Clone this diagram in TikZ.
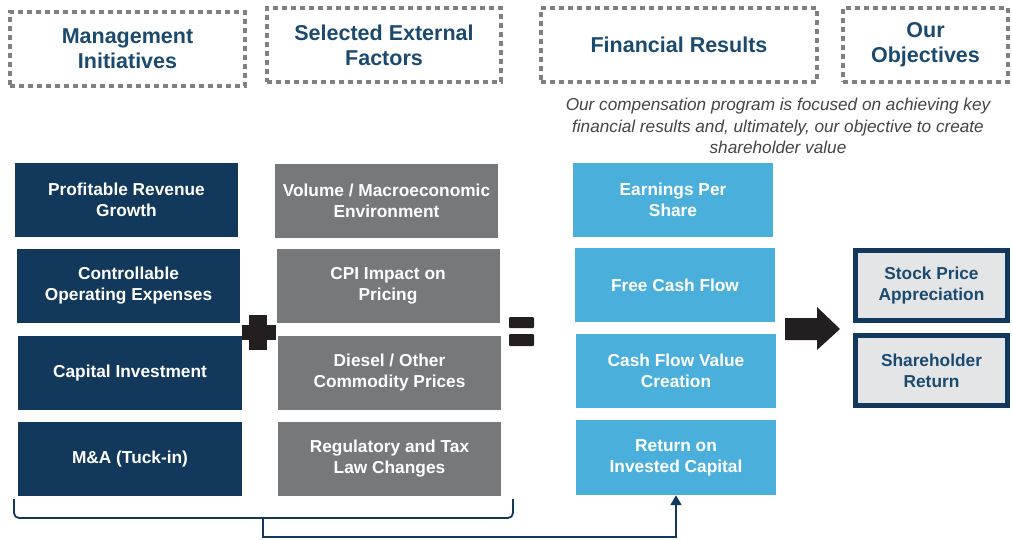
\documentclass[tikz,border=0pt]{standalone}
\usepackage{fontspec}
\setmainfont{Liberation Sans}
\usetikzlibrary{arrows.meta}
\definecolor{navy}{HTML}{12395B}
\definecolor{hdtext}{HTML}{1C4A6E}
\definecolor{gbox}{HTML}{77787A}
\definecolor{lblue}{HTML}{4BAFDC}
\definecolor{objfill}{HTML}{E4E5E7}
\definecolor{dotgray}{HTML}{808080}
\definecolor{ittext}{HTML}{444444}
\definecolor{symb}{HTML}{231F20}
\tikzset{
  hdr/.style={draw=dotgray, line width=4.5pt, dash pattern=on 5pt off 4pt, minimum height=74pt,
    font=\fontsize{21.5}{25}\selectfont\bfseries, text=hdtext, align=center, inner sep=0pt},
  boxbase/.style={minimum height=74pt, inner sep=0pt, align=center,
    font=\fontsize{17.3}{21}\selectfont\bfseries, text=white},
  navybox/.style={boxbase, fill=navy, minimum width=224pt},
  graybox/.style={boxbase, fill=gbox, minimum width=223pt},
  bluebox/.style={boxbase, fill=lblue, minimum width=200pt},
  objbox/.style={boxbase, draw=navy, line width=5pt, fill=objfill, text=hdtext,
    minimum width=152pt, minimum height=70pt},
  brace/.style={draw=navy, line width=1.8pt, rounded corners=5pt},
}
\begin{document}
\begin{tikzpicture}[x=1pt,y=-1pt]
\useasboundingbox (0,0) rectangle (1012,539);
% headers
\node[hdr, minimum width=235pt] (h1) at (127.5,49) {Management\\Initiatives};
\node[hdr, minimum width=234pt] (h2) at (384,45) {Selected External\\Factors};
\node[hdr, minimum width=276pt] (h3) at (679,45) {Financial Results};
\node[hdr, minimum width=165pt] (h4) at (925.5,45) {Our\\Objectives};
% italic note
\node[font=\fontsize{17.2}{21.5}\selectfont\itshape, text=ittext, align=center] (note) at (778,126)
  {Our compensation program is focused on achieving key\\financial results and, ultimately, our objective to create\\shareholder value};
% management initiatives
\node[navybox, minimum width=223pt] (m1) at (126.5,200) {Profitable Revenue\\Growth};
\node[navybox, minimum width=223pt] (m2) at (128.5,286) {Controllable\\Operating Expenses};
\node[navybox] (m3) at (130,373) {Capital Investment};
\node[navybox] (m4) at (130,459) {M\&A (Tuck-in)};
% external factors
\node[graybox] (g1) at (386.5,201) {Volume / Macroeconomic\\Environment};
\node[graybox] (g2) at (388,286) {CPI Impact on\\Pricing};
\node[graybox] (g3) at (389.5,373) {Diesel / Other\\Commodity Prices};
\node[graybox] (g4) at (389.5,459) {Regulatory and Tax\\Law Changes};
% financial results
\node[bluebox] (b1) at (673,200) {Earnings Per\\Share};
\node[bluebox] (b2) at (675,285) {Free Cash Flow};
\node[bluebox] (b3) at (676,371) {Cash Flow Value\\Creation};
\node[bluebox, minimum height=75pt] (b4) at (676,457.5) {Return on\\Invested Capital};
% objectives
\node[objbox] (o1) at (931.5,285.5) {Stock Price\\Appreciation};
\node[objbox] (o2) at (931.5,370.5) {Shareholder\\Return};
% plus sign
\fill[symb] (249,315) rectangle (267,350);
\fill[symb] (242,325) rectangle (276,340);
% equals sign
\fill[symb, rounded corners=1pt] (509,317) rectangle (534,328);
\fill[symb, rounded corners=1pt] (509,334) rectangle (534,346);
% big arrow
\fill[symb] (785,318) -- (817,318) -- (817,307) -- (840,329) -- (817,350) -- (817,340) -- (785,340) -- cycle;
% brace
\coordinate (bl) at (14,499);
\coordinate (br) at (513,499);
\coordinate (bc) at (263,518);
\coordinate (bt) at (263,537);
\draw[brace] (bl) -- (14,518) -- (bc) -- (br |- bc) -- (br);
\draw[draw=navy, line width=1.8pt, -{Triangle[width=11pt,length=10pt]}]
  (bc) -- (bt) -- (bt -| b4.south) -- (b4.south);
\end{tikzpicture}
\end{document}
